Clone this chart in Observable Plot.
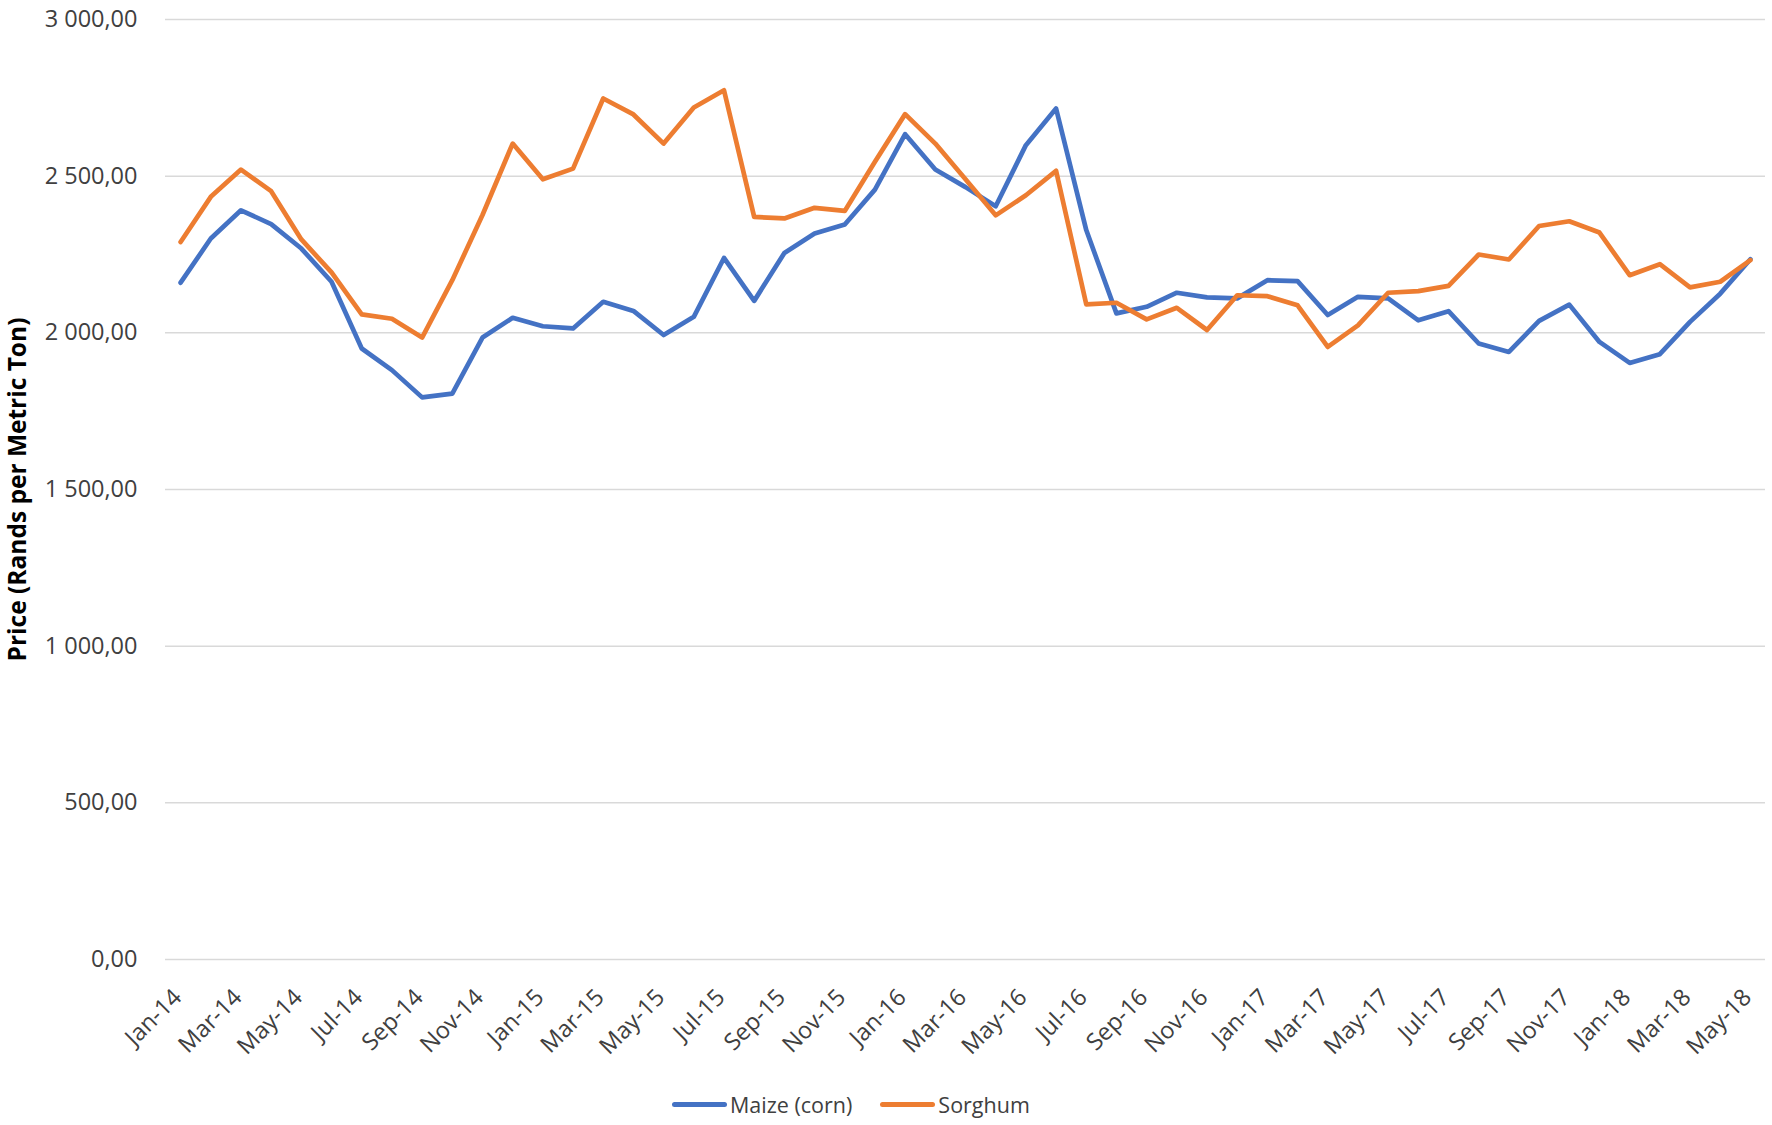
<!DOCTYPE html>
<html>
<head>
<meta charset="utf-8">
<script src="https://cdn.jsdelivr.net/npm/d3@7"></script>
<script src="https://cdn.jsdelivr.net/npm/@observablehq/plot@0.6"></script>
<style>
  html, body { margin: 0; padding: 0; background: #fff; }
  #chart svg { display: block; }
  #legend { display: flex; align-items: center; margin-left: 672px; margin-top: 14px; font-family: "Open Sans", sans-serif; font-size: 21.5px; color: #404040; height: 40px; }
  .sw { display: inline-block; width: 55px; height: 5px; border-radius: 3px; margin-right: 3px; }
  .item { display: flex; align-items: center; margin-right: 28px; }
</style>
</head>
<body>
<div id="chart"></div>
<div id="legend"></div>
<script>
const months = ["Jan-14","Feb-14","Mar-14","Apr-14","May-14","Jun-14","Jul-14","Aug-14","Sep-14","Oct-14","Nov-14","Dec-14",
  "Jan-15","Feb-15","Mar-15","Apr-15","May-15","Jun-15","Jul-15","Aug-15","Sep-15","Oct-15","Nov-15","Dec-15",
  "Jan-16","Feb-16","Mar-16","Apr-16","May-16","Jun-16","Jul-16","Aug-16","Sep-16","Oct-16","Nov-16","Dec-16",
  "Jan-17","Feb-17","Mar-17","Apr-17","May-17","Jun-17","Jul-17","Aug-17","Sep-17","Oct-17","Nov-17","Dec-17",
  "Jan-18","Feb-18","Mar-18","Apr-18","May-18"];
const maize = [2160,2301,2391,2347,2269,2163,1950,1881,1794,1806,1985,2048,
  2021,2014,2099,2070,1993,2051,2239,2102,2255,2317,2346,2457,
  2634,2521,2465,2404,2599,2716,2328,2062,2083,2128,2113,2110,
  2168,2165,2057,2115,2110,2040,2069,1966,1939,2038,2090,1971,
  1904,1932,2035,2125,2235];
const sorghum = [2290,2434,2521,2452,2298,2193,2059,2045,1985,2168,2376,2604,
  2490,2524,2748,2697,2604,2719,2774,2370,2365,2399,2389,2546,
  2698,2604,2490,2375,2439,2517,2091,2096,2043,2080,2009,2120,
  2117,2088,1955,2024,2128,2133,2150,2250,2234,2341,2356,2320,
  2184,2219,2145,2163,2232];
const seriesNames = ["Maize (corn)", "Sorghum"];
const seriesColors = ["#4472C4", "#ED7D31"];
const yTicks = [0, 500, 1000, 1500, 2000, 2500, 3000];
const xTicks = months.filter((m, i) => i % 2 === 0);

const rows = [];
months.forEach((m, i) => {
  rows.push({month: m, series: seriesNames[0], value: maize[i]});
  rows.push({month: m, series: seriesNames[1], value: sorghum[i]});
});

const locale = d3.formatLocale({decimal: ",", thousands: "\u00a0", grouping: [3], currency: ["", ""]});
const fmt = locale.format(",.2f");

const chart = Plot.plot({
  width: 1772,
  height: 1070,
  marginTop: 19,
  marginBottom: 111,
  marginLeft: 165,
  marginRight: 7,
  style: {fontFamily: "Open Sans, sans-serif", fontSize: "23.5px", color: "#404040", background: "#fff"},
  x: {type: "point", domain: months, padding: 0.5, round: false},
  y: {domain: [0, 3000]},
  color: {domain: seriesNames, range: seriesColors},
  marks: [
    Plot.gridY(yTicks, {stroke: "#d9d9d9", strokeOpacity: 1, strokeWidth: 1.5}),
    Plot.axisY(yTicks, {tickSize: 0, tickPadding: 28, tickFormat: fmt, fill: "#404040",
      label: "Price (Rands per Metric Ton)", labelAnchor: "center", labelArrow: "none", labelOffset: 157}),
    Plot.axisX(xTicks, {tickSize: 0, tickPadding: 34, dx: -3, tickRotate: -45, fill: "#404040", fontSize: 23.5, label: null}),
    Plot.line(rows, {x: "month", y: "value", z: "series", stroke: "series", strokeWidth: 4.7, strokeLinejoin: "round", strokeLinecap: "round"})
  ]
});
// bold y label
chart.querySelectorAll("text").forEach(t => {
  if (t.textContent === "Price (Rands per Metric Ton)") { t.style.fontWeight = "bold"; t.style.fill = "#000"; t.style.fontSize = "24.5px"; }
});
document.getElementById("chart").appendChild(chart);

const legend = document.getElementById("legend");
seriesNames.forEach((n, i) => {
  const it = document.createElement("span");
  it.className = "item";
  const sw = document.createElement("span");
  sw.className = "sw";
  sw.style.background = seriesColors[i];
  it.appendChild(sw);
  it.appendChild(document.createTextNode(n));
  legend.appendChild(it);
});
</script>
</body>
</html>
